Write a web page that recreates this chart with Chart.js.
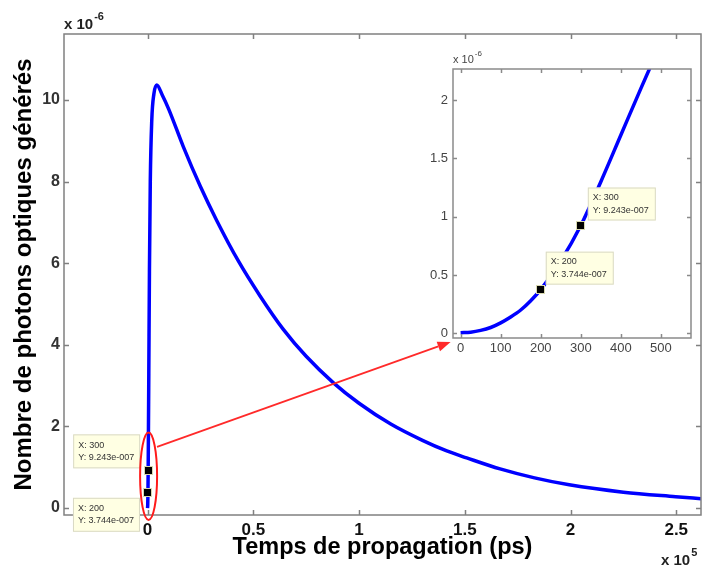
<!DOCTYPE html>
<html><head><meta charset="utf-8">
<script src="https://cdn.jsdelivr.net/npm/chart.js@4"></script>
<style>
html,body{margin:0;padding:0;background:#fff;width:702px;height:571px;overflow:hidden}
#wrap{position:relative;width:702px;height:571px}
canvas{position:absolute;left:0;top:0}
</style></head><body>
<div id="wrap">
<canvas id="main" width="702" height="571"></canvas>
<canvas id="inset" width="702" height="571"></canvas>
</div>
<script>
// ---------- data ----------
// Main curve: time in units of 1e5 ps, photons in units of 1e-6
const mainTime    = [0, 0.001, 0.002, 0.003, 0.004, 0.006, 0.009, 0.013, 0.02, 0.03, 0.0435, 0.07, 0.1, 0.169, 0.25, 0.327, 0.43, 0.532, 0.642, 0.75, 0.879, 1.0, 1.15, 1.3, 1.415, 1.509, 1.667, 1.83, 1.994, 2.25, 2.497, 2.62];
const mainPhotons = [0, 0.09, 0.3744, 0.9243, 1.67, 3.3, 5.8, 8.0, 9.5, 10.15, 10.37, 10.12, 9.78, 8.86, 7.88, 7.05, 6.05, 5.2, 4.38, 3.72, 3.07, 2.57, 2.06, 1.66, 1.4, 1.23, 0.96, 0.74, 0.57, 0.39, 0.28, 0.23];
const mainXTicks = [0, 0.5, 1, 1.5, 2, 2.5];
const mainYTicks = [0, 2, 4, 6, 8, 10];

// Inset (zoom): time in ps, photons in units of 1e-6
const insetTime    = [0, 25, 50, 75, 100, 125, 150, 175, 200, 250, 300, 350, 400, 450, 500];
const insetPhotons = [0.005, 0.01, 0.025, 0.05, 0.09, 0.14, 0.2, 0.28, 0.3744, 0.62, 0.9243, 1.3, 1.7, 2.1, 2.49];
const insetXTicks = [0, 100, 200, 300, 400, 500];
const insetYTicks = [0, 0.5, 1, 1.5, 2];

// Data cursors
const tipTimesPs  = [200, 300];
const tipPhotons  = [0.3744, 0.9243];
const tipXLabels  = ['X: 200', 'X: 300'];
const tipYLabels  = ['Y: 3.744e-007', 'Y: 9.243e-007'];

const F = '"Liberation Sans", Arial, sans-serif';

function boxTicks(color, width, len) {
  return {
    id: 'boxTicks',
    afterDatasetsDraw(chart) {
      const {ctx, chartArea: a, scales: {x, y}} = chart;
      ctx.save();
      ctx.strokeStyle = color; ctx.lineWidth = width;
      ctx.strokeRect(a.left, a.top, a.right - a.left, a.bottom - a.top);
      ctx.beginPath();
      x.ticks.forEach(t => {
        const p = Math.round(x.getPixelForValue(t.value)) + 0.5;
        ctx.moveTo(p, a.bottom); ctx.lineTo(p, a.bottom - len);
        ctx.moveTo(p, a.top); ctx.lineTo(p, a.top + len);
      });
      y.ticks.forEach(t => {
        const p = Math.round(y.getPixelForValue(t.value)) + 0.5;
        ctx.moveTo(a.left, p); ctx.lineTo(a.left + len, p);
        ctx.moveTo(a.right, p); ctx.lineTo(a.right - len, p);
      });
      ctx.stroke();
      ctx.restore();
    }
  };
}

function drawExp(ctx, x, yBase, base, exp, bigFont, smallFont, color, rise) {
  ctx.save();
  ctx.fillStyle = color;
  ctx.textBaseline = 'alphabetic';
  ctx.textAlign = 'left';
  ctx.font = bigFont;
  ctx.fillText(base, x, yBase);
  const w = ctx.measureText(base).width;
  ctx.font = smallFont;
  ctx.fillText(exp, x + w + 1, yBase - rise);
  ctx.restore();
}

function drawTip(ctx, left, top, w, h, l1, l2, font, dy1, dy2) {
  ctx.save();
  ctx.fillStyle = '#ffffe3';
  ctx.strokeStyle = '#d9d9c4';
  ctx.lineWidth = 1;
  ctx.fillRect(left, top, w, h);
  ctx.strokeRect(left + 0.5, top + 0.5, w - 1, h - 1);
  ctx.fillStyle = '#333';
  ctx.font = font;
  ctx.textBaseline = 'middle';
  ctx.textAlign = 'left';
  ctx.fillText(l1, left + 5, top + dy1);
  ctx.fillText(l2, left + 5, top + dy2);
  ctx.restore();
}

function drawMarker(ctx, px, py, s) {
  ctx.save();
  ctx.fillStyle = '#000';
  ctx.fillRect(Math.round(px - s / 2), Math.round(py - s / 2), s, s);
  ctx.strokeStyle = '#d8d8b0';
  ctx.lineWidth = 1;
  ctx.strokeRect(Math.round(px - s / 2) - 0.5, Math.round(py - s / 2) - 0.5, s + 1, s + 1);
  ctx.restore();
}

const mainAnnot = {
  id: 'mainAnnot',
  afterDraw(chart) {
    const {ctx, chartArea: a, scales: {x, y}} = chart;
    drawExp(ctx, a.left, 29, 'x 10', '-6', 'bold 15px ' + F, 'bold 11px ' + F, '#222', 9);
    drawExp(ctx, a.right - 40, 565, 'x 10', '5', 'bold 15px ' + F, 'bold 11px ' + F, '#222', 9);
    for (let i = 0; i < tipTimesPs.length; i++) {
      const px = x.getPixelForValue(tipTimesPs[i] / 1e5);
      const py = y.getPixelForValue(tipPhotons[i]);
      const w = 67, h = 34;
      const left = px - 8 - w;
      const top = i === 0 ? py + 5 : py - 2 - h;
      drawTip(ctx, left, top, w, h, tipXLabels[i], tipYLabels[i], '9px ' + F, 11, 23);
    }
    for (let i = 0; i < tipTimesPs.length; i++) {
      drawMarker(ctx, x.getPixelForValue(tipTimesPs[i] / 1e5), y.getPixelForValue(tipPhotons[i]), 7);
    }
    const cx = x.getPixelForValue(0.005), cy = y.getPixelForValue(0.78);
    const rx = 8.5, ry = Math.abs(y.getPixelForValue(1.85) - cy);
    ctx.save();
    ctx.strokeStyle = '#ff1a1a';
    ctx.lineWidth = 2;
    ctx.beginPath();
    ctx.ellipse(cx, cy, rx, ry, 0, 0, Math.PI * 2);
    ctx.stroke();
    ctx.restore();
  }
};

const mainChart = new Chart(document.getElementById('main'), {
  type: 'line',
  data: {
    datasets: [{
      data: mainTime.map((t, i) => ({x: t, y: mainPhotons[i]})),
      borderColor: '#0000ff',
      borderWidth: 3.5,
      pointRadius: 0,
      cubicInterpolationMode: 'monotone',
      fill: false
    }]
  },
  options: {
    responsive: false,
    animation: false,
    events: [],
    layout: {padding: {left: 0, top: 34, right: 1, bottom: 0}},
    plugins: {legend: {display: false}, tooltip: {enabled: false}},
    scales: {
      x: {
        type: 'linear', min: -0.395, max: 2.617,
        afterBuildTicks: s => { s.ticks = mainXTicks.map(v => ({value: v})); },
        afterFit: s => { s.height = 56; },
        grid: {display: false, drawTicks: false},
        border: {display: false},
        ticks: {font: {family: F, size: 17, weight: 'bold'}, color: '#111', padding: 5,
                maxRotation: 0, autoSkip: false, callback: v => String(v)},
        title: {display: true, text: 'Temps de propagation (ps)', color: '#000',
                font: {family: F, size: 23.5, weight: 'bold'}, padding: {top: 0, bottom: 9}}
      },
      y: {
        type: 'linear', min: -0.17, max: 11.62,
        afterBuildTicks: s => { s.ticks = mainYTicks.map(v => ({value: v})); },
        afterFit: s => { s.width = 64; },
        grid: {display: false, drawTicks: false},
        border: {display: false},
        ticks: {font: {family: F, size: 16, weight: 'bold'}, color: '#333', padding: 4,
                autoSkip: false, callback: v => String(v)},
        title: {display: true, text: 'Nombre de photons optiques générés', color: '#000',
                font: {family: F, size: 24, weight: 'bold'}, padding: {top: 10, bottom: 0}}
      }
    }
  },
  plugins: [boxTicks('#808080', 1.5, 5), mainAnnot]
});

const insetAnnot = {
  id: 'insetAnnot',
  afterDraw(chart) {
    const {ctx, chartArea: a, scales: {x, y}} = chart;
    drawExp(ctx, a.left, 63, 'x 10', '-6', '11px ' + F, '8px ' + F, '#444', 7);
    const offs = [[5, -5], [7, -5]];
    for (let i = 0; i < tipTimesPs.length; i++) {
      const px = x.getPixelForValue(tipTimesPs[i]);
      const py = y.getPixelForValue(tipPhotons[i]);
      const w = 68, h = 33;
      drawTip(ctx, px + offs[i][0], py + offs[i][1] - h, w, h, tipXLabels[i], tipYLabels[i], '9px ' + F, 10, 23);
    }
    for (let i = 0; i < tipTimesPs.length; i++) {
      drawMarker(ctx, x.getPixelForValue(tipTimesPs[i]), y.getPixelForValue(tipPhotons[i]), 7);
    }
    const mx = mainChart.scales.x, my = mainChart.scales.y;
    const x0 = mx.getPixelForValue(0.045), y0 = my.getPixelForValue(1.5);
    const x1 = x.getPixelForValue(-25), y1 = y.getPixelForValue(-0.075);
    const ang = Math.atan2(y1 - y0, x1 - x0);
    const hl = 13, hw = 5;
    ctx.save();
    ctx.strokeStyle = '#ff2a2a';
    ctx.fillStyle = '#ff2a2a';
    ctx.lineWidth = 1.8;
    ctx.beginPath();
    ctx.moveTo(x0, y0);
    ctx.lineTo(x1 - hl * Math.cos(ang), y1 - hl * Math.sin(ang));
    ctx.stroke();
    ctx.beginPath();
    ctx.moveTo(x1, y1);
    ctx.lineTo(x1 - hl * Math.cos(ang) + hw * Math.sin(ang), y1 - hl * Math.sin(ang) - hw * Math.cos(ang));
    ctx.lineTo(x1 - hl * Math.cos(ang) - hw * Math.sin(ang), y1 - hl * Math.sin(ang) + hw * Math.cos(ang));
    ctx.closePath();
    ctx.fill();
    ctx.restore();
  }
};

const insetBg = {
  id: 'insetBg',
  beforeDatasetsDraw(chart) {
    const {ctx, chartArea: a} = chart;
    ctx.save(); ctx.fillStyle = '#fff';
    ctx.fillRect(a.left, a.top, a.right - a.left, a.bottom - a.top);
    ctx.restore();
  }
};

new Chart(document.getElementById('inset'), {
  type: 'line',
  data: {
    datasets: [{
      data: insetTime.map((t, i) => ({x: t, y: insetPhotons[i]})),
      borderColor: '#0000ff',
      borderWidth: 3.5,
      pointRadius: 0,
      cubicInterpolationMode: 'monotone',
      fill: false
    }]
  },
  options: {
    responsive: false,
    animation: false,
    events: [],
    layout: {padding: {left: 400, top: 69, right: 11, bottom: 203}},
    plugins: {legend: {display: false}, tooltip: {enabled: false}},
    scales: {
      x: {
        type: 'linear', min: -19, max: 575,
        afterBuildTicks: s => { s.ticks = insetXTicks.map(v => ({value: v})); },
        afterFit: s => { s.height = 30; },
        grid: {display: false, drawTicks: false},
        border: {display: false},
        ticks: {font: {family: F, size: 13}, color: '#444', padding: 3,
                maxRotation: 0, autoSkip: false, callback: v => String(v)}
      },
      y: {
        type: 'linear', min: -0.04, max: 2.266,
        afterBuildTicks: s => { s.ticks = insetYTicks.map(v => ({value: v})); },
        afterFit: s => { s.width = 53; },
        grid: {display: false, drawTicks: false},
        border: {display: false},
        ticks: {font: {family: F, size: 13}, color: '#444', padding: 5,
                autoSkip: false, callback: v => String(v)}
      }
    }
  },
  plugins: [insetBg, boxTicks('#8a8a8a', 1.5, 4), insetAnnot]
});
</script>
</body></html>
